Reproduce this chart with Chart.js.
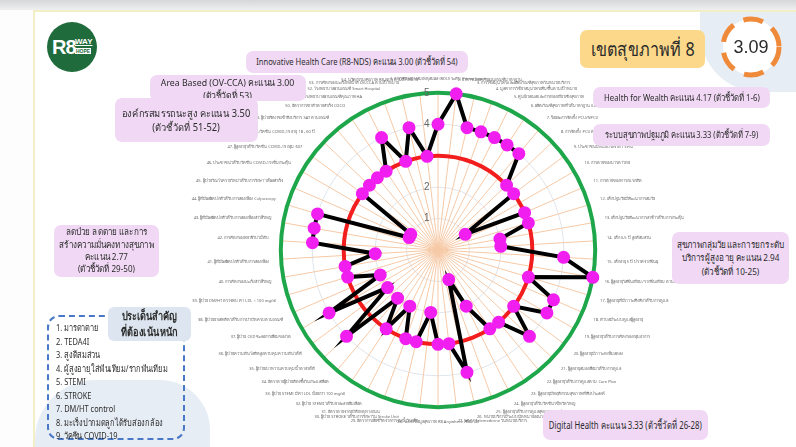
<!DOCTYPE html>
<html>
<head>
<meta charset="utf-8">
<script src="https://cdn.jsdelivr.net/npm/chart.js@4"></script>
<style>
body { margin: 0; width: 796px; height: 447px; overflow: hidden; background: #fdfdfd; font-family: "Liberation Sans Narrow", "Noto Sans", sans-serif; position: relative; color: #2b2b2b; }
.topband { position: absolute; left: 0; top: 0; width: 796px; height: 10px; background: linear-gradient(#d6d7d9, #eeeff1); }
.panel { position: absolute; left: 33px; top: 10px; right: 0; bottom: 0; background: #fff; border-left: 2px solid #f3efc4; border-top: 2px solid #f3efc4; }
.blob { position: absolute; background: #e7edf5; }
.box { position: absolute; z-index: 2; background: #f1d9f5; border-radius: 7px; text-align: center; display: flex; flex-direction: column; justify-content: center; align-items: center; line-height: 1.4; white-space: nowrap; }
.box span { display: inline-block; }
#wrap { position: absolute; z-index: 1; left: 58px; top: 77px; width: 760px; height: 348px; }
.logo { position: absolute; left: 47px; top: 22px; width: 50px; height: 50px; border-radius: 50%; background: #1f6b3c; color: #fff; font-weight: bold; font-family: "Liberation Sans", sans-serif; }
</style>
</head>
<body>
<div class="topband"></div>
<div class="panel"></div>
<div class="blob" style="left:700px;top:12px;width:110px;height:80px;border-radius:0 0 0 60px;"></div>
<div class="blob" style="left:35px;top:380px;width:175px;height:80px;border-radius:60px 50px 0 0;"></div>

<div class="logo">
  <span style="position:absolute;left:5px;top:14px;font-size:20px;letter-spacing:-1px;">R8</span>
  <span style="position:absolute;left:28px;top:15px;font-size:8px;text-decoration:underline;">WAY</span>
  <span style="position:absolute;left:28px;top:26px;font-size:5px;background:#fff;color:#1f6b3c;padding:0 1px;">HOPE</span>
</div>

<div style="position:absolute;z-index:2;left:580px;top:30px;width:125px;height:38px;background:#fcd98a;border-radius:7px;font-size:19px;display:flex;align-items:center;justify-content:center;white-space:nowrap;"><span style="display:inline-block;transform:scaleX(0.85);">เขตสุขภาพที่ 8</span></div>
<svg style="position:absolute;z-index:2;left:718px;top:14px;" width="66" height="66">
  <circle cx="33" cy="33" r="28" fill="#fff" stroke="#ef8a3a" stroke-width="5" stroke-dasharray="20 11"/>
  <text x="33" y="39" text-anchor="middle" font-size="18" font-family="Liberation Sans Narrow, sans-serif" fill="#2b2b2b">3.09</text>
</svg>

<div class="box" style="left:246px;top:51px;width:222px;height:22px;font-size:9.5px;"><span style="transform:scaleX(0.8);">Innovative Health Care (R8-NDS) คะแนน 3.00 (ตัวชี้วัดที่ 54)</span></div>
<div class="box" style="left:150px;top:75px;width:156px;height:26px;font-size:9.5px;justify-content:flex-start;padding-top:1px;box-sizing:border-box;"><span style="transform:scaleX(0.92);">Area Based (OV-CCA) คะแนน 3.00<br>(ตัวชี้วัดที่ 53)</span></div>
<div class="box" style="left:115px;top:98px;width:143px;height:44px;font-size:10px;"><span style="transform:scaleX(0.93);">องค์กรสมรรถนะสูง คะแนน 3.50<br>(ตัวชี้วัดที่ 51-52)</span></div>
<div class="box" style="left:593px;top:87px;width:177px;height:21px;font-size:9.5px;"><span style="transform:scaleX(0.82);">Health for Wealth คะแนน 4.17 (ตัวชี้วัดที่ 1-6)</span></div>
<div class="box" style="left:593px;top:124px;width:177px;height:22px;font-size:9.5px;"><span style="transform:scaleX(0.8);">ระบบสุขภาพปฐมภูมิ คะแนน 3.33 (ตัวชี้วัดที่ 7-9)</span></div>
<div class="box" style="left:672px;top:232px;width:117px;height:52px;font-size:9.5px;"><span style="transform:scaleX(0.86);">สุขภาพกลุ่มวัยและการยกระดับ<br>บริการผู้สูงอายุ คะแนน 2.94<br>(ตัวชี้วัดที่ 10-25)</span></div>
<div class="box" style="left:54px;top:225px;width:105px;height:52px;font-size:9.5px;line-height:1.3;"><span style="transform:scaleX(0.85);">ลดป่วย ลดตาย และการ<br>สร้างความมั่นคงทางสุขภาพ<br>คะแนน 2.77<br>(ตัวชี้วัดที่ 29-50)</span></div>
<div class="box" style="left:543px;top:410px;width:165px;height:30px;font-size:10.5px;"><span style="transform:scaleX(0.74);">Digital Health คะแนน 3.33 (ตัวชี้วัดที่ 26-28)</span></div>

<div style="position:absolute;z-index:2;left:47px;top:315px;width:134px;height:121px;border:2px dashed #4a78c8;border-radius:12px;"></div>
<div id="focus" style="position:absolute;z-index:2;left:56px;top:321px;font-size:9.5px;line-height:13.5px;white-space:nowrap;transform:scaleX(0.78);transform-origin:left top;"></div>
<div style="position:absolute;z-index:2;left:108px;top:307px;width:83px;height:34px;background:#dde6f0;border-radius:6px;font-size:11.5px;font-weight:bold;text-align:center;line-height:16px;padding-top:1px;box-sizing:border-box;white-space:nowrap;"><span style="display:inline-block;transform:scaleX(0.8);">ประเด็นสำคัญ<br>ที่ต้องเน้นหนัก</span></div>

<div id="wrap"><canvas id="radar"></canvas></div>

<script>
// indicators 1-54
var indicators = [
  '1. การใช้ยาอย่างสมเหตุสมผล (RDU) ระดับ Primary care',
  '2. อาหารปลอดภัยผ่านเกณฑ์มาตรฐาน',
  '3. การใช้สมุนไพรและผลิตภัณฑ์สุขภาพในหน่วยบริการ',
  '4. มูลค่าการใช้ยาสมุนไพรเพิ่มขึ้นตามเป้าหมาย',
  '5. ศูนย์เวลเนสและการท่องเที่ยวเชิงสุขภาพ',
  '6. ผลิตภัณฑ์สุขภาพที่ได้มาตรฐาน และส่งเสริมการตลาด',
  '7. ร้อยละการจัดตั้ง PCU/NPCU',
  '8. การจัดตั้ง PCU ตามเป้าหมาย',
  '9. ประชาชนมีหมอประจำตัว 3 คน',
  '10. การตายของมารดาไทย',
  '11. การตายของทารกแรกเกิด',
  '12. เด็กปฐมวัยมีพัฒนาการสมวัย',
  '13. เด็กปฐมวัยพัฒนาการล่าช้าได้รับการกระตุ้น',
  '14. เด็ก 0-5 ปี สูงดีสมส่วน',
  '15. เด็กอายุ 5 ปี ปราศจากฟันผุ',
  '16. ผู้สูงอายุใส่ฟันเทียม/รากฟันเทียม ตามเป้าหมาย',
  '17. ผู้สูงอายุที่มีภาวะพึ่งพิงได้รับการดูแล',
  '18. ตำบลมีระบบดูแลผู้สูงอายุ',
  '19. ผู้สูงอายุได้รับการคัดกรองกลุ่มอาการ',
  '20. ผู้สูงอายุมีภาวะหกล้มลดลง',
  '21. ผู้สูงอายุสมองเสื่อมได้รับการดูแล',
  '22. ผู้สูงอายุได้รับการดูแลตาม Care Plan',
  '23. ผู้สูงอายุมีพฤติกรรมสุขภาพที่พึงประสงค์',
  '24. ผู้สูงอายุได้รับวัคซีนไข้หวัดใหญ่',
  '25. ผู้สูงอายุได้รับการดูแลสุขภาพช่องปาก',
  '26. หน่วยบริการมีระบบนัดหมายออนไลน์',
  '27. ระบบ Telemedicine ในหน่วยบริการ',
  '28. ระบบข้อมูลสุขภาพ R8 Anywhere เชื่อมโยง',
  '29. อัตราการเสียชีวิตจากการจมน้ำในเด็ก',
  '30. ผู้ป่วย STROKE ได้รับการรักษาใน Stroke Unit',
  '31. อัตราตายจากอุบัติเหตุทางถนน',
  '32. ผู้ป่วย STEMI ได้รับยาละลายลิ่มเลือด',
  '33. ผู้ป่วย STEMI มีค่า LDL น้อยกว่า 100 mg/dl',
  '34. อัตราตายผู้ป่วยติดเชื้อในกระแสเลือด',
  '35. ผู้ป่วยเบาหวานควบคุมน้ำตาลได้ดี',
  '36. ผู้ป่วยความดันโลหิตสูงควบคุมความดันได้ดี',
  '37. ผู้ป่วย CKD ชะลอการเสื่อมของไต',
  '38. ผู้ป่วยยาเสพติดได้รับการบำบัดครบตามเกณฑ์',
  '39. ผู้ป่วย DM/HT ตรวจพบ ค่า LDL < 100 mg/dl',
  '40. การคัดกรองมะเร็งลำไส้ใหญ่',
  '41. ผู้ที่มีผลผิดปกติได้รับการส่องกล้อง',
  '42. การคัดกรองพยาธิใบไม้ตับ',
  '43. ผู้ที่มีผลผิดปกติได้รับการส่องกล้องลำไส้ใหญ่',
  '44. ผู้ที่มีผลผิดปกติได้รับการส่องกล้อง Colposcopy',
  '45. ผู้ป่วยวัณโรครายใหม่ได้รับการรักษา ได้ผลสำเร็จ',
  '46. ประชาชนได้รับวัคซีน COVID-19 เข็มกระตุ้น',
  '47. ผู้สูงอายุได้รับวัคซีน COVID-19 กลุ่ม 607',
  '48. ผู้ป่วยโรคเรื้อรังได้รับวัคซีน COVID-19 อายุ 18 - 60 ปี',
  '49. ผู้ป่วยจิตเวชเข้าถึงบริการ SAT ตามเกณฑ์',
  '50. อัตราการฆ่าตัวตายสำเร็จ COCO',
  '51. โรงพยาบาลผ่านเกณฑ์คุณภาพ HA',
  '52. โรงพยาบาลผ่านเกณฑ์ Smart Hospital',
  '53. การคัดกรองมะเร็งท่อน้ำดี OV-CCA ตามเป้าหมาย',
  '54. นวัตกรรมสุขภาพ R8-NDS ตามเป้าหมาย'
];

var scores = [
  4, 5, 4, 4, 4, 4, 4, 3, 3, 1,
  3, 3, 2, 2, 4, 5, 3, 4, 4, 3,
  4, 3, 3, 2, 1, 4, 3, 3, 2, 3,
  3, 2, 3, 2, 4, 2, 4, 2, 3, 3,
  2, 4, 4, 4, 1, 1, 3, 3, 3, 3,
  4, 3, 4, 3
];

var scaleTicks = [0, 1, 2, 3, 4, 5];
var targetLine = 3;   // red ring
var fullLine = 5;     // green ring

var focusItems = ['1. มารดาตาย', '2. TEDA4I', '3. สูงดีสมส่วน', '4. ผู้สูงอายุใส่ฟันเทียม/รากฟันเทียม', '5. STEMI', '6. STROKE', '7. DM/HT control', '8. มะเร็งปากมดลูกได้รับส่องกล้อง', '9. วัคซีน COVID-19'];

document.getElementById('focus').innerHTML = focusItems.join('<br>');

function setTicks(s) {
    s.ticks = scaleTicks.map(function (v) { return { value: v }; });
}

// both radial scales must fit the same way, so they share tick + label sizes
var tickOpts = { showLabelBackdrop: false, font: { size: 10 }, callback: function (v) { return v + '        '; } };
var labelFont = { size: 4, family: 'Noto Sans' };

var ctx = document.getElementById('radar').getContext('2d');
var radar = new Chart(ctx, {
    type: 'radar',
    data: {
        labels: indicators,
        datasets: [{
            label: 'คะแนน',
            data: scores,
            borderColor: '#000',
            borderWidth: 4,
            backgroundColor: 'rgba(0,0,0,0)',
            pointBackgroundColor: '#f01ff0',
            pointBorderColor: '#f01ff0',
            pointRadius: 4.5,
            fill: false
        }]
    },
    options: {
        responsive: true,
        maintainAspectRatio: false,
        animation: false,
        plugins: { legend: { display: false }, tooltip: { enabled: false } },
        scales: {
            r: {
                min: 0,
                max: 5,
                afterBuildTicks: setTicks,
                angleLines: { color: '#f6c9a6', lineWidth: 1 },
                grid: {
                    circular: true,
                    color: function (c) {
                        return (c.tick.value === targetLine || c.tick.value === fullLine) ? 'rgba(0,0,0,0)' : '#dfe5ec';
                    }
                },
                ticks: Object.assign({ color: '#666' }, tickOpts),
                pointLabels: { font: labelFont, color: '#666', padding: 5 }
            },
            // second ring layer so the red/green circles sit on top of the angle lines
            r2: {
                type: 'radialLinear',
                min: 0,
                max: 5,
                afterBuildTicks: setTicks,
                angleLines: { display: false },
                grid: {
                    circular: true,
                    color: function (c) {
                        if (c.tick.value === fullLine) return '#1ea64a';
                        if (c.tick.value === targetLine) return '#f21d1d';
                        return 'rgba(0,0,0,0)';
                    },
                    lineWidth: 4
                },
                ticks: Object.assign({ color: 'rgba(0,0,0,0)' }, tickOpts),
                pointLabels: { font: labelFont, color: 'rgba(0,0,0,0)', padding: 5 }
            }
        }
    }
});
</script>
</body>
</html>
